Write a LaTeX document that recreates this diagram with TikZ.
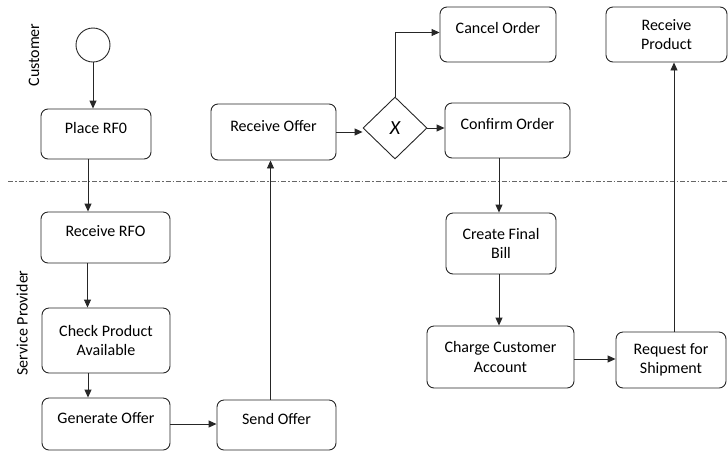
\documentclass[tikz,border=0pt]{standalone}
\usepackage{fontspec}
\setmainfont{Carlito}
\usepackage{tikz}
\usetikzlibrary{shapes.geometric,arrows.meta}

\tikzset{
  task/.style={draw=black!85, line width=0.9pt, rounded corners=7pt, align=center,
    font=\fontsize{16}{19.5}\selectfont},
  onetask/.style={task, text height=12pt, text depth=13.7pt},
  flow/.style={draw=black!85, line width=0.9pt, -{Triangle[length=8pt,width=7pt]}},
  lane/.style={rotate=90, font=\fontsize{16}{19.5}\selectfont},
}

\begin{document}
\begin{tikzpicture}[x=1pt, y=-1pt]
             \useasboundingbox (0,0) rectangle (728,451);

             % lanes
             \node[lane] (customer) at (34, 55) {Customer};
             \node[lane] (provider) at (22, 323) {Service Provider};
             \draw[black!60, line width=1pt, dash pattern=on 5pt off 2pt on 1.5pt off 2pt] (8,181) -- (728,181);

             % customer
             \node[circle, draw=black!85, line width=0.9pt, minimum size=34pt, inner sep=0pt] (start) at (93, 45) {};
             \node[onetask, minimum width=110pt, minimum height=50pt] (placerfo) at (96, 134) {Place RF0};
             \node[onetask, minimum width=125pt, minimum height=56pt] (recvoffer) at (273.5, 132) {Receive Offer};
             \node[diamond, draw=black!85, line width=0.9pt, minimum width=64pt, minimum height=62pt, inner sep=0pt,
                   font=\fontsize{20}{20}\selectfont\itshape] (gate) at (395, 128) {X};
             \node[onetask, minimum width=116pt, minimum height=55pt] (cancel) at (498, 34.5) {Cancel Order};
             \node[onetask, minimum width=125pt, minimum height=55pt] (confirm) at (507.5, 130.5) {Confirm Order};
             \node[task, minimum width=121pt, minimum height=55pt] (recvprod) at (666.5, 34.5) {Receive\\Product};

             % service provider
             \node[onetask, minimum width=129pt, minimum height=51pt] (recvrfo) at (105.5, 237.5) {Receive RFO};
             \node[task, minimum width=128pt, minimum height=65pt] (check) at (106, 340.5) {Check Product\\Available};
             \node[onetask, minimum width=128pt, minimum height=52pt] (genoffer) at (106, 424) {Generate Offer};
             \node[onetask, minimum width=119pt, minimum height=50pt] (sendoffer) at (276.5, 425) {Send Offer};
             \node[task, minimum width=110pt, minimum height=61pt] (createbill) at (501, 243.5) {Create Final\\Bill};
             \node[task, minimum width=147pt, minimum height=62pt] (charge) at (500.5, 357) {Charge Customer\\Account};
             \node[task, minimum width=110pt, minimum height=56pt] (request) at (671, 360) {Request for\\Shipment};

             % flows
             \draw[flow] (start.south) -- (start.south |- placerfo.north);
             \draw[flow] ([xshift=-8pt]placerfo.south) -- ([xshift=-8pt]placerfo.south |- recvrfo.north);
             \draw[flow] ([xshift=-18pt]recvrfo.south) -- ([xshift=-18pt]recvrfo.south |- check.north);
             \draw[flow] ([xshift=-18pt]check.south) -- ([xshift=-18pt]check.south |- genoffer.north);
             \draw[flow] (genoffer.east) -- (genoffer.east -| sendoffer.west);
             \draw[flow] ([xshift=-6pt]sendoffer.north) -- ([xshift=-6pt]sendoffer.north |- recvoffer.south);
             \draw[flow] (recvoffer.east) -- (recvoffer.east -| gate.west);
             \draw[flow] (gate.north) |- ([yshift=2pt]cancel.west);
             \draw[flow] (gate.east) -- (gate.east -| confirm.west);
             \draw[flow] ([xshift=-8.5pt]confirm.south) -- ([xshift=-8.5pt]confirm.south |- createbill.north);
             \draw[flow] ([xshift=-2pt]createbill.south) -- ([xshift=-2pt]createbill.south |- charge.north);
             \draw[flow] ([yshift=-2pt]charge.east) -- ([yshift=-2pt]charge.east -| request.west);
             \draw[flow] ([xshift=3pt]request.north) -- ([xshift=3pt]request.north |- recvprod.south);
             \end{tikzpicture}
\end{document}
